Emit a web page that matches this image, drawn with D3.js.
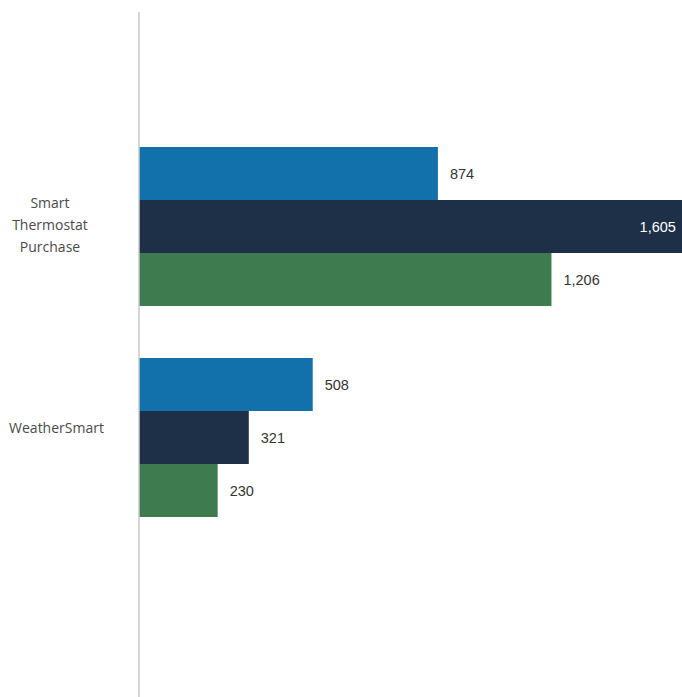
<!DOCTYPE html>
<html>
<head>
<meta charset="utf-8">
<script src="https://cdn.jsdelivr.net/npm/d3@7"></script>
<style>
  html, body { margin: 0; padding: 0; background: #ffffff; }
  svg { display: block; }
</style>
</head>
<body>
<script>
// ---- Data ----
const categories = ["Smart Thermostat Purchase", "WeatherSmart"];
const categoryLines = [["Smart", "Thermostat", "Purchase"], ["WeatherSmart"]];
const seriesNames = ["Series 1", "Series 2", "Series 3"];
const series1 = [874, 508];
const series2 = [1605, 321];
const series3 = [1206, 230];
const seriesValues = [series1, series2, series3];
const seriesColors = ["#1271ab", "#1d3047", "#3e7b4e"];

// ---- Layout ----
const W = 682, H = 697;
const svg = d3.select("body").append("svg").attr("width", W).attr("height", H);

const y = d3.scaleBand()
  .domain(categories)
  .range([41.5, 622.5])
  .paddingInner(0.2464)
  .paddingOuter(0.5);

const ySub = d3.scaleBand()
  .domain(seriesNames)
  .range([0, y.bandwidth()])
  .padding(0);

const x = d3.scaleLinear()
  .domain([0, 1605])
  .range([139, 139 + 1605 * 0.342]);

const fmt = d3.format(",");

// bars
const rows = [];
categories.forEach((c, ci) => {
  seriesNames.forEach((s, si) => {
    rows.push({ cat: c, ser: s, si, value: seriesValues[si][ci] });
  });
});

const g = svg.append("g");

g.selectAll("rect.bar")
  .data(rows)
  .join("rect")
  .attr("class", "bar")
  .attr("x", x(0))
  .attr("y", d => y(d.cat) + ySub(d.ser))
  .attr("width", d => x(d.value) - x(0))
  .attr("height", ySub.bandwidth())
  .attr("fill", d => seriesColors[d.si]);

// value labels
g.selectAll("text.val")
  .data(rows)
  .join("text")
  .attr("class", "val")
  .each(function (d) {
    const end = x(d.value);
    const inside = end + 12 + 40 > W;
    d3.select(this)
      .attr("x", inside ? Math.min(end, W + 6) - 12 : end + 12)
      .attr("text-anchor", inside ? "end" : "start")
      .attr("fill", inside ? "#ffffff" : "#333333");
  })
  .attr("y", d => y(d.cat) + ySub(d.ser) + ySub.bandwidth() / 2)
  .attr("dy", "0.35em")
  .attr("font-family", "'Liberation Sans', Arial, sans-serif")
  .attr("font-size", "14.5px")
  .text(d => fmt(d.value));

// axis line
g.append("line")
  .attr("x1", x(0)).attr("x2", x(0))
  .attr("y1", 12).attr("y2", H)
  .attr("stroke", "#c8c8c8")
  .attr("stroke-width", 1.5);

// category labels
const lineH = 22;
categories.forEach((c, ci) => {
  const lines = categoryLines[ci];
  const cy = y(c) + y.bandwidth() / 2 + (lines.length === 1 ? -9 : -1.5);
  const cx = lines.length === 1 ? 56.5 : 50;
  const t = g.append("text")
    .attr("font-family", "'Open Sans', sans-serif")
    .attr("font-size", "14px")
    .attr("fill", "#4a4a4a")
    .attr("text-anchor", "middle");
  lines.forEach((ln, li) => {
    t.append("tspan")
      .attr("x", cx)
      .attr("y", cy + (li - (lines.length - 1) / 2) * lineH)
      .attr("dy", "0.35em")
      .text(ln);
  });
});
</script>
</body>
</html>
